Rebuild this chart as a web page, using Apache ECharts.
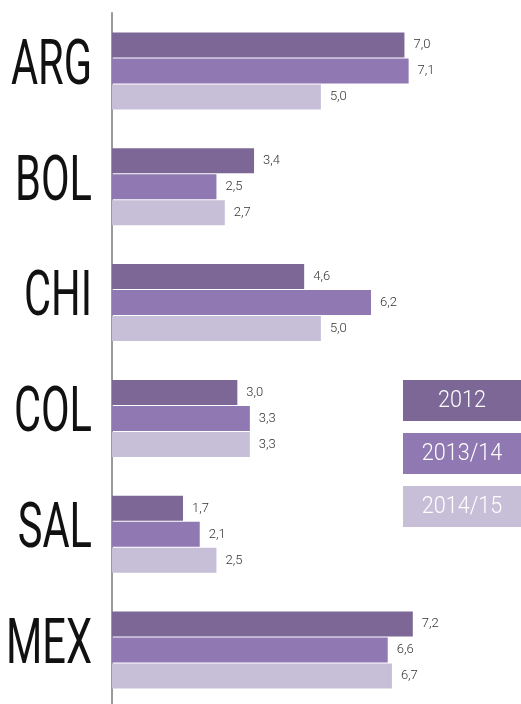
<!DOCTYPE html>
<html>
<head>
<meta charset="utf-8">
<script src="https://cdn.jsdelivr.net/npm/echarts@6/dist/echarts.min.js"></script>
<style>
html,body{margin:0;padding:0;background:#fff;}
#chart{width:521px;height:704px;}
</style>
</head>
<body>
<div id="chart"></div>
<script>
// countries, top to bottom
var countries = ['ARG', 'BOL', 'CHI', 'COL', 'SAL', 'MEX'];
var seriesNames = ['2012', '2013/14', '2014/15'];
var v2012 = [7.0, 3.4, 4.6, 3.0, 1.7, 7.2];
var v2013 = [7.1, 2.5, 6.2, 3.3, 2.1, 6.6];
var v2014 = [5.0, 2.7, 5.0, 3.3, 2.5, 6.7];
var colors = ['#7c6797', '#9079b3', '#c7bfd8'];

var chart = echarts.init(document.getElementById('chart'));

function fmt(p) {
    return p.value.toFixed(1).replace('.', ',');
}

function makeSeries(name, data, i) {
    return {
        name: name,
        type: 'bar',
        data: data,
        barWidth: 25,
        barGap: '4%',
        itemStyle: { color: colors[i] },
        label: {
            show: true,
            position: 'right',
            distance: 9,
            formatter: fmt,
            color: '#333',
            fontSize: 13,
            fontWeight: 300,
            fontFamily: 'Roboto'
        },
        silent: true
    };
}

// legend boxes drawn on the right
var legendTop = 380;
var legendItems = seriesNames.map(function (n, i) {
    return {
        type: 'rect',
        left: 403,
        top: legendTop + i * 53,
        shape: { width: 118, height: 41 },
        style: { fill: colors[i] },
        textContent: {
            scaleX: 0.9,
            style: {
                text: n,
                fill: '#fff',
                fontSize: 24,
                fontWeight: 300,
                fontFamily: 'Roboto'
            }
        },
        textConfig: { position: 'inside' }
    };
});

chart.setOption({
    animation: false,
    grid: { left: 112, right: 33, top: 13, height: 695, outerBoundsMode: 'none' },
    xAxis: {
        type: 'value',
        min: 0,
        max: 9,
        show: false
    },
    yAxis: {
        type: 'category',
        data: countries,
        inverse: true,
        axisLine: { lineStyle: { color: '#999', width: 2 } },
        axisTick: { show: false },
        axisLabel: { show: false }
    },
    series: [
        makeSeries(seriesNames[0], v2012, 0),
        makeSeries(seriesNames[1], v2013, 1),
        makeSeries(seriesNames[2], v2014, 2)
    ],
    graphic: legendItems
});

// big condensed country names, placed from the category axis
var names = countries.map(function (c) {
    var y = chart.convertToPixel({ yAxisIndex: 0 }, c);
    return {
        type: 'text',
        x: 92,
        y: y - 3,
        scaleX: 0.66,
        style: {
            text: c,
            fill: '#111',
            fontSize: 63,
            fontFamily: 'Roboto',
            align: 'right',
            verticalAlign: 'middle'
        }
    };
});
chart.setOption({ graphic: legendItems.concat(names) });
</script>
</body>
</html>
